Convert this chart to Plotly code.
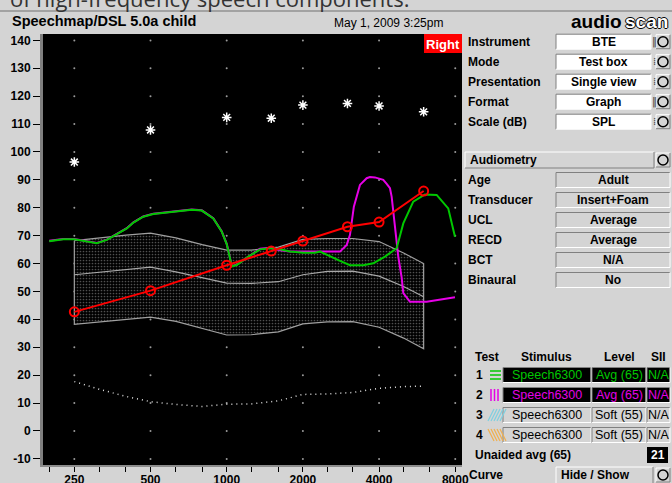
import math
import plotly.graph_objects as go

# ---------------- data ----------------
ucl_freq = [250, 500, 1000, 1500, 2000, 3000, 4000, 6000]
ucl_db = [96.4, 107.9, 112.4, 112.1, 116.8, 117.4, 116.5, 114.4]

thr_freq = [250, 500, 1000, 1500, 2000, 3000, 4000, 6000]
thr_db = [42.7, 50.3, 59.4, 64.5, 68.1, 73.2, 74.9, 86.0]

band_freq = [250, 315, 400, 500, 630, 800, 1000, 1250, 1600, 2000, 2500, 3150, 4000, 5000, 6000]
band_upper = [68.2, 69.3, 70.2, 70.9, 69.2, 66.8, 64.8, 64.8, 65.9, 68.7, 69.0, 69.0, 67.9, 63.8, 60.0]
band_mid = [56.0, 56.9, 57.8, 58.7, 57.0, 54.8, 53.0, 52.9, 53.5, 56.0, 57.2, 57.3, 55.5, 51.8, 48.1]
band_lower = [38.2, 39.0, 40.0, 40.8, 39.3, 36.8, 34.4, 34.5, 35.5, 38.4, 39.1, 39.2, 37.2, 33.3, 29.5]
norm_db = [17.7, 14.9, 12.4, 10.5, 9.5, 8.8, 9.6, 9.7, 10.8, 13.1, 13.3, 13.8, 15.3, 15.9, 16.1]

t1_freq = [199, 226, 250, 276, 307, 336, 368, 403, 428, 468, 513, 580, 654, 727, 797, 885,
           955, 1000, 1024, 1047, 1095, 1217, 1354, 1483, 1623, 1779, 2007, 2233, 2336, 2445,
           2803, 3070, 3466, 3795, 4220, 4694, 4986, 5460, 6071, 6754, 7505, 7980]
t1_db = [68.0, 68.7, 68.7, 67.9, 67.3, 68.5, 70.6, 72.6, 74.7, 76.8, 77.8, 78.3, 78.7, 79.3, 79.0, 76.2,
         71.5, 67.0, 63.0, 59.0, 59.5, 62.5, 65.1, 65.5, 65.1, 64.3, 63.9, 63.9, 64.3, 63.4,
         61.0, 59.4, 59.4, 60.1, 62.5, 65.5, 74.4, 82.2, 84.8, 84.6, 79.8, 69.6]

t2_freq = [199, 226, 250, 276, 307, 336, 368, 403, 428, 468, 513, 580, 654, 727, 797, 885,
           955, 1000, 1024, 1047, 1095, 1217, 1354, 1483, 1623, 1779, 2007, 2233, 2445, 2803,
           2980, 3070, 3180, 3361, 3573, 3681, 3851, 3972, 4156, 4287, 4417, 4485, 4624, 4764,
           4913, 4986, 5299, 6168, 7980]
t2_db = [68.2, 68.8, 68.8, 68.0, 67.4, 68.6, 70.7, 72.7, 74.8, 76.9, 77.9, 78.4, 78.8, 79.4, 79.1, 76.3,
         71.6, 67.1, 63.1, 59.1, 59.6, 62.6, 65.3, 65.7, 64.8, 64.3, 64.3, 64.3, 64.3, 64.3,
         66.7, 70.3, 80.4, 88.2, 90.6, 91.0, 90.9, 90.6, 90.0, 88.6, 87.0, 84.0, 73.2, 62.5,
         55.0, 49.4, 46.3, 46.3, 47.9]

x_tick_freq = [200, 250, 315, 400, 500, 630, 800, 1000, 1250, 1600, 2000, 2500, 3150,
               4000, 5000, 6300, 8000]
x_tick_text = ['', '250', '', '', '500', '', '', '1000', '', '', '2000', '', '',
               '4000', '', '', '8000']
y_tick_db = [-10, 0, 10, 20, 30, 40, 50, 60, 70, 80, 90, 100, 110, 120, 130, 140]
grid_freq = [250, 500, 1000, 2000, 4000, 8000]

settings_labels = ['Instrument', 'Mode', 'Presentation', 'Format', 'Scale (dB)']
settings_values = ['BTE', 'Test box', 'Single view', 'Graph', 'SPL']
audio_labels = ['Age', 'Transducer', 'UCL', 'RECD', 'BCT', 'Binaural']
audio_values = ['Adult', 'Insert+Foam', 'Average', 'Average', 'N/A', 'No']
test_ids = ['1', '2', '3', '4']
test_stimulus = ['Speech6300', 'Speech6300', 'Speech6300', 'Speech6300']
test_level = ['Avg (65)', 'Avg (65)', 'Soft (55)', 'Soft (55)']
test_sii = ['N/A', 'N/A', 'N/A', 'N/A']
unaided_sii = '21'

# ---------------- styling / layout ----------------
FIG_W, FIG_H = 672, 483
ML, MR, MT, MB = 43, 210, 34, 18
PW, PH = FIG_W - ML - MR, FIG_H - MT - MB
FONT = 'Liberation Sans'
GREEN = '#00c800'
MAGENTA = '#e600e6'
RED = '#ff0000'
BG = '#d4d4d4'


def X(px):
    return (px - ML) / PW


def Y(py):
    return 1 - (py - MT) / PH


shapes = []
annotations = []


def rect(x0, y0, x1, y1, fill, line=None, lw=1):
    shapes.append(dict(type='rect', xref='paper', yref='paper', x0=X(x0), x1=X(x1),
                       y0=Y(y0), y1=Y(y1), fillcolor=fill,
                       line=dict(color=line or fill, width=lw if line else 0), layer='above'))


def seg(x0, y0, x1, y1, color, lw=1):
    shapes.append(dict(type='line', xref='paper', yref='paper', x0=X(x0), x1=X(x1),
                       y0=Y(y0), y1=Y(y1), line=dict(color=color, width=lw), layer='above'))


def bevel(x0, y0, x1, y1, fill, sunken=True):
    rect(x0, y0, x1, y1, fill)
    dark, light = ('#808080', '#ffffff') if sunken else ('#ffffff', '#808080')
    seg(x0, y0, x1, y0, dark)
    seg(x0, y0, x0, y1, dark)
    seg(x0, y1, x1, y1, light)
    seg(x1, y0, x1, y1, light)


def text(x, y, s, size=12, color='black', anchor='left', bold=True, family=FONT, **kw):
    annotations.append(dict(xref='paper', yref='paper', x=X(x), y=Y(y),
                            text=('<b>%s</b>' % s) if bold else s, showarrow=False,
                            xanchor=anchor, yanchor='middle',
                            font=dict(family=family, size=size, color=color, **kw)))


def obutton(xc, yc):
    bevel(xc - 7, yc - 7, xc + 7, yc + 7, BG, sunken=False)
    shapes.append(dict(type='circle', xref='paper', yref='paper', x0=X(xc - 5), x1=X(xc + 5),
                       y0=Y(yc - 5), y1=Y(yc + 5), line=dict(color='black', width=1.5),
                       layer='above'))


fig = go.Figure()

# grid dots at labelled frequencies / 10 dB steps
fig.add_trace(go.Scatter(x=[f for f in grid_freq for _ in y_tick_db],
                         y=[v for _ in grid_freq for v in y_tick_db],
                         mode='markers', marker=dict(size=2, color='#9a9a9a'),
                         hoverinfo='skip', showlegend=False))

# speech region (banana)
fig.add_trace(go.Scatter(x=band_freq + band_freq[::-1] + band_freq[:1],
                         y=band_upper + band_lower[::-1] + band_upper[:1],
                         mode='lines', fill='toself', fillcolor='black',
                         fillpattern=dict(shape='.', size=3, solidity=0.25,
                                          fgcolor='#a0a0a0', bgcolor='black'),
                         line=dict(color='#a0a0a0', width=1.2), showlegend=False))
fig.add_trace(go.Scatter(x=band_freq, y=band_mid, mode='lines',
                         line=dict(color='#a8a8a8', width=1.2), showlegend=False))

# normal-hearing dotted curve
fig.add_trace(go.Scatter(x=band_freq, y=norm_db, mode='lines',
                         line=dict(color='#e0e0e0', width=1.5, dash='1px,4px'), showlegend=False))

# test curves
fig.add_trace(go.Scatter(x=t2_freq, y=t2_db, mode='lines',
                         line=dict(color=MAGENTA, width=2), showlegend=False))
fig.add_trace(go.Scatter(x=t1_freq, y=t1_db, mode='lines',
                         line=dict(color=GREEN, width=2), showlegend=False))

# thresholds
fig.add_trace(go.Scatter(x=thr_freq, y=thr_db, mode='lines+markers',
                         line=dict(color=RED, width=2),
                         marker=dict(symbol='circle-open', size=9, color=RED,
                                     line=dict(color=RED, width=2)), showlegend=False))
# UCL stars
fig.add_trace(go.Scatter(x=ucl_freq, y=ucl_db, mode='markers',
                         marker=dict(symbol='asterisk-open', size=8, color='white',
                                     line=dict(color='white', width=1.5)), showlegend=False))

# ---------- screen furniture ----------
# header
seg(0, 11, FIG_W, 11, '#707070')
text(10, 21, 'Speechmap/DSL 5.0a child', size=14.5)
text(388, 23, 'May 1, 2009 3:25pm', size=12, anchor='center', bold=False)
text(569, 21, 'audio', size=19)
text(623, 21, 'scan', size=19, color='white',
     shadow='1px 0 0 #000, -1px 0 0 #000, 0 1px 0 #000, 0 -1px 0 #000')
text(8, -2, 'of high-frequency speech components.', size=22, bold=False,
     family='Open Sans', color='#333333')

# Right ear tag
rect(424, 34, 462, 53, RED)
text(443, 44, 'Right', size=13, color='white', anchor='center')

# settings rows
for i, (lab, val) in enumerate(zip(settings_labels, settings_values)):
    yc = 41.7 + 20 * i
    text(466, yc, lab)
    bevel(556, yc - 7.5, 651, yc + 7.5, 'white')
    text(603.5, yc, val, anchor='center')
    obutton(663, yc)
    text(654, yc, '⁞' if i in (1, 2, 4) else '‖', size=10, anchor='center', bold=False,
         family='DejaVu Sans', color='#444444')

# audiometry section
bevel(465, 152, 654, 168, BG, sunken=False)
text(468, 160, 'Audiometry')
obutton(663, 160)
for i, (lab, val) in enumerate(zip(audio_labels, audio_values)):
    yc = 180 + 20 * i
    text(466, yc, lab)
    bevel(556, yc - 7.5, 670, yc + 7.5, BG)
    text(613, yc, val, anchor='center')

# test table
text(486.5, 357, 'Test', anchor='center')
text(546, 357, 'Stimulus', anchor='center')
text(619, 357, 'Level', anchor='center')
text(658, 357, 'SII', anchor='center')
row_colors = [GREEN, MAGENTA, 'black', 'black']
for i, tid in enumerate(test_ids):
    yc = 375 + 20 * i
    active = i < 2
    fill = 'black' if active else BG
    col = row_colors[i]
    text(479, yc, tid, anchor='center')
    bevel(503, yc - 7.5, 591, yc + 7.5, fill)
    bevel(592, yc - 7.5, 646, yc + 7.5, fill)
    bevel(647, yc - 7.5, 670, yc + 7.5, fill)
    text(547, yc, test_stimulus[i], color=col, anchor='center', bold=False, size=12.5)
    text(619, yc, test_level[i], color=col, anchor='center', bold=False, size=12.5)
    text(658.5, yc, test_sii[i], color=col, anchor='center', bold=False, size=12.5)
    # legend swatch
    if i == 0:
        for dy in (-4, 0, 4):
            seg(490, yc + dy, 501, yc + dy, GREEN, 1.5)
    elif i == 1:
        for dx in (491, 494.5, 498):
            seg(dx, yc - 6, dx, yc + 6, MAGENTA, 1.5)
    else:
        hc = '#7fd0e0' if i == 2 else '#f0b050'
        for k in range(5):
            xa = 488 + 3 * k
            if i == 2:
                seg(xa, yc + 6, xa + 6, yc - 6, hc, 1.2)
            else:
                seg(xa, yc - 6, xa + 6, yc + 6, hc, 1.2)

text(473, 455, 'Unaided avg (65)')
rect(647, 447, 668, 463, 'black')
text(657.5, 455, unaided_sii, color='white', anchor='center')

text(467, 475, 'Curve')
bevel(556, 467, 653, 485, BG, sunken=False)
text(559, 475, 'Hide / Show', anchor='left')
obutton(663, 475)

fig.update_layout(
    width=FIG_W, height=FIG_H,
    margin=dict(l=ML, r=MR, t=MT, b=MB, pad=0, autoexpand=False),
    paper_bgcolor=BG, plot_bgcolor='black',
    showlegend=False,
    shapes=shapes, annotations=annotations,
    xaxis=dict(type='log', range=[math.log10(188.0), math.log10(8506)], automargin=False,
               showgrid=False, zeroline=False, showline=True, linecolor='#8c8c8c',
               linewidth=2, ticks='outside', ticklen=5, tickcolor='black', tickwidth=1,
               ticklabelstandoff=-2,
               tickvals=x_tick_freq, ticktext=['<b>%s</b>' % t if t else '' for t in x_tick_text],
               tickfont=dict(family=FONT, size=12, color='black')),
    yaxis=dict(range=[-12.19, 142.29], showgrid=False, zeroline=False, showline=True,
               automargin=False,
               linecolor='#7f7f7f', linewidth=3, ticks='outside', ticklen=7,
               tickcolor='black', tickwidth=1, tickvals=y_tick_db,
               ticktext=['<b>%d</b>' % v for v in y_tick_db],
               tickfont=dict(family=FONT, size=12, color='black')),
)

fig.write_html('out.html', config={'displayModeBar': False},
               post_script="document.body.style.margin='0';"
               "document.body.style.overflow='hidden';")
